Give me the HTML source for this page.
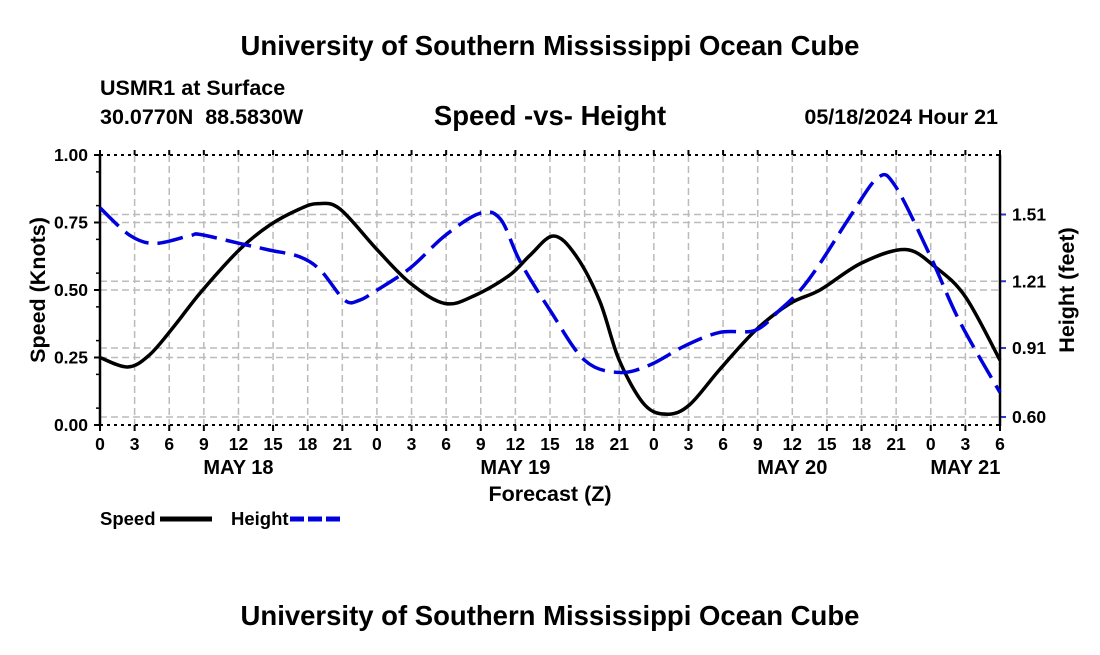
<!DOCTYPE html>
<html><head><meta charset="utf-8"><style>
body{margin:0;background:#fff;width:1100px;height:650px;overflow:hidden}
svg text{font-family:"Liberation Sans",Arial,sans-serif;font-weight:bold;fill:#000}
</style></head><body>
<svg id="chart" width="1100" height="650" xmlns="http://www.w3.org/2000/svg">
<text x="550" y="55" font-size="27.5" text-anchor="middle">University of Southern Mississippi Ocean Cube</text>
<text x="100" y="95" font-size="21.5">USMR1 at Surface</text>
<text x="100" y="124" font-size="21.5" xml:space="preserve">30.0770N  88.5830W</text>
<text x="550" y="125" font-size="27.5" text-anchor="middle">Speed -vs- Height</text>
<text x="998" y="124" font-size="21.5" text-anchor="end">05/18/2024 Hour 21</text>
<g id="grid"></g>
<g id="axes"></g>
<g id="series"></g>
<text transform="translate(45,290) rotate(-90)" font-size="21.5" text-anchor="middle">Speed (Knots)</text>
<text transform="translate(1074,290) rotate(-90)" font-size="21.5" text-anchor="middle">Height (feet)</text>
<text x="550" y="501" font-size="21.5" text-anchor="middle">Forecast (Z)</text>
<g>
<text x="100" y="525" font-size="18.5">Speed</text>
<line x1="160" y1="519" x2="212" y2="519" stroke="#000" stroke-width="5"/>
<text x="231" y="525" font-size="18.5">Height</text>
<line x1="290" y1="519" x2="342" y2="519" stroke="#0000dd" stroke-width="5" stroke-dasharray="14,4"/>
</g>
<text x="550" y="625" font-size="27.5" text-anchor="middle">University of Southern Mississippi Ocean Cube</text>
</svg>
<script>
const speedHours=[0,2.4,4.3,6.5,8.7,12.1,14.7,17.3,18.9,20.8,24,26.9,29.9,32.5,35.5,37.3,39.3,41.2,43.3,45,47.2,49.2,51.1,53.7,56.8,59.8,62.4,66,69.8,72.4,75,78];
const speedValues=[0.25,0.215,0.26,0.37,0.49,0.65,0.74,0.80,0.82,0.80,0.65,0.525,0.45,0.48,0.555,0.63,0.70,0.63,0.46,0.24,0.075,0.04,0.075,0.205,0.35,0.45,0.50,0.60,0.65,0.585,0.475,0.24];
const heightHours=[0,2.6,4.8,7.8,8.7,12.1,14.7,17.3,19.1,21.2,22.5,24,26.9,29.9,32.9,34.7,36.4,39,42,45,47.7,50.7,53.7,56.8,58.9,60.7,62.4,65,67.4,68.9,71.9,74.5,78];
const heightValues=[1.54,1.416,1.38,1.415,1.42,1.38,1.35,1.32,1.26,1.125,1.125,1.17,1.27,1.415,1.515,1.49,1.30,1.08,0.855,0.80,0.835,0.92,0.98,0.99,1.08,1.17,1.29,1.50,1.675,1.64,1.33,1.03,0.71];
const hourTicks=[0,3,6,9,12,15,18,21,24,27,30,33,36,39,42,45,48,51,54,57,60,63,66,69,72,75,78];
const speedTicks=[0,0.25,0.5,0.75,1.0];
const speedTickLabels=["0.00","0.25","0.50","0.75","1.00"];
const heightTicks=[0.60,0.91,1.21,1.51];
const heightTickLabels=["0.60","0.91","1.21","1.51"];
const dayLabels=["MAY 18","MAY 19","MAY 20","MAY 21"];
const dayLabelHours=[12,36,60,75];

const L=100,R=1000,T=155,B=425;
const xS=h=>L+h*(R-L)/78;
const yS=v=>B-v*(B-T);
const yH=h=>417-(h-0.60)*(417-214.5)/0.91;
const NS="http://www.w3.org/2000/svg";
function mk(tag,attrs,parent){const e=document.createElementNS(NS,tag);for(const k in attrs)e.setAttribute(k,attrs[k]);parent.appendChild(e);return e;}
const grid=document.getElementById('grid'),axes=document.getElementById('axes'),series=document.getElementById('series');
hourTicks.forEach((h,i)=>{
  const x=xS(h);
  if(i>0&&i<hourTicks.length-1){const g=mk('line',{x1:x,y1:T,x2:x,y2:B,stroke:'#bbb','stroke-width':1.5,'stroke-dasharray':'7,4'},grid);
  
  }
  const t=mk('line',{x1:x,y1:B,x2:x,y2:B+6,stroke:'#000','stroke-width':2},axes);
  
  
  mk('line',{x1:x,y1:T,x2:x,y2:T-5,stroke:'#000','stroke-width':2},axes);
  const lbl=mk('text',{x:x,y:B+25,'font-size':17.5,'text-anchor':'middle'},axes);
  lbl.textContent=String(h%24);
  
  
});
dayLabels.forEach((d,i)=>{
  const t=mk('text',{x:xS(dayLabelHours[i]),y:474,'font-size':20,'text-anchor':'middle'},axes);
  t.textContent=d;
  
  
});
speedTicks.forEach((v,i)=>{
  const y=yS(v);
  if(v>0&&v<1){const g=mk('line',{x1:L,y1:y,x2:R,y2:y,stroke:'#bbb','stroke-width':1.5,'stroke-dasharray':'7,4'},grid);
  
  }
  mk('line',{x1:L-6,y1:y,x2:L,y2:y,stroke:'#000','stroke-width':2},axes);
  const t=mk('text',{x:L-12,y:y+6,'font-size':17.5,'text-anchor':'end'},axes);
  t.textContent=speedTickLabels[i];
  
  
});
for(let v=0.0625;v<1;v+=0.125){mk('line',{x1:L-4,y1:yS(v),x2:L,y2:yS(v),stroke:'#000','stroke-width':1.5},axes);}
heightTicks.forEach((v,i)=>{
  const y=yH(v);
  const g=mk('line',{x1:L,y1:y,x2:R,y2:y,stroke:'#bbb','stroke-width':1.5,'stroke-dasharray':'7,4'},grid);
  
  
  mk('line',{x1:R,y1:y,x2:R+6,y2:y,stroke:'#3333cc','stroke-width':2},axes);
  const t=mk('text',{x:R+12,y:y+6,'font-size':17.5},axes);
  t.textContent=heightTickLabels[i];
  
  
});
mk('line',{x1:L,y1:T,x2:R,y2:T,stroke:'#000','stroke-width':2,'stroke-dasharray':'3,4'},axes);
mk('line',{x1:L,y1:B,x2:R,y2:B,stroke:'#000','stroke-width':2,'stroke-dasharray':'3,4'},axes);
mk('line',{x1:L,y1:T,x2:L,y2:B+1,stroke:'#000','stroke-width':2.5},axes);
mk('line',{x1:R,y1:T,x2:R,y2:B+1,stroke:'#000','stroke-width':2.5},axes);
function smooth(pts){let d=`M${pts[0][0]},${pts[0][1]}`;
  for(let i=0;i<pts.length-1;i++){const p0=pts[i-1]||pts[i],p1=pts[i],p2=pts[i+1],p3=pts[i+2]||p2;
    d+=` C${p1[0]+(p2[0]-p0[0])/6},${p1[1]+(p2[1]-p0[1])/6} ${p2[0]-(p3[0]-p1[0])/6},${p2[1]-(p3[1]-p1[1])/6} ${p2[0]},${p2[1]}`;}
  return d;}
const sp=mk('path',{d:smooth(speedHours.map((h,i)=>[xS(h),yS(speedValues[i])])),fill:'none',stroke:'#000','stroke-width':3.5},series);


const hp=mk('path',{d:smooth(heightHours.map((h,i)=>[xS(h),yH(heightValues[i])])),fill:'none',stroke:'#0000dd','stroke-width':3.5,'stroke-dasharray':'26,9'},series);


</script>
</body></html>
